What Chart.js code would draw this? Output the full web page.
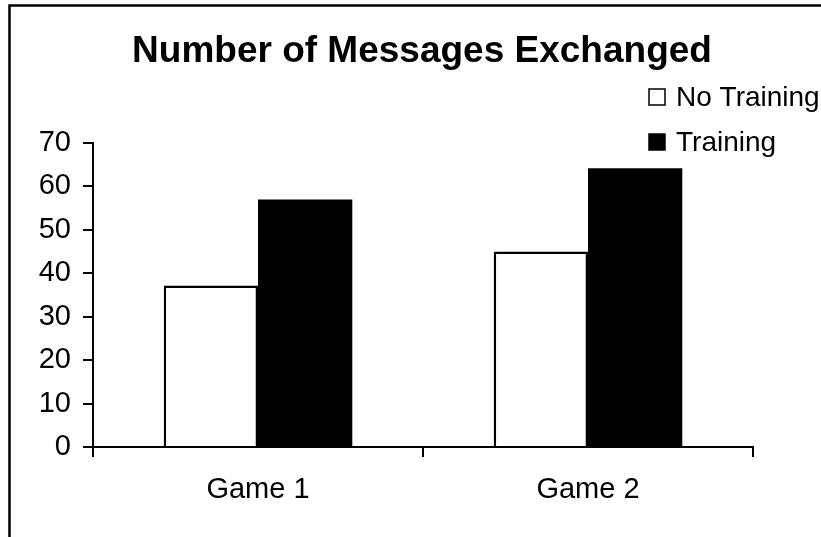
<!DOCTYPE html>
<html>
<head>
<meta charset="utf-8">
<script src="https://cdn.jsdelivr.net/npm/chart.js@4/dist/chart.umd.min.js"></script>
<style>
  html, body { margin: 0; padding: 0; background: #fff; }
  #wrap { width: 821px; height: 537px; position: relative; }
</style>
</head>
<body>
<div id="wrap"><canvas id="chart"></canvas></div>
<script>
// ── data ─────────────────────────────────────────────
const chartTitle = 'Number of Messages Exchanged';
const categories = ['Game 1', 'Game 2'];
const seriesNames = ['No Training', 'Training'];
const noTraining = [37.2, 45.0];
const training = [57.0, 64.2];
const yTicks = [0, 10, 20, 30, 40, 50, 60, 70];

const FONT = "'Liberation Sans', Arial, sans-serif";

// frame, title and the stacked legend in the top-right corner
const decorations = {
    id: 'decorations',
    beforeDraw(chart) {
        const ctx = chart.ctx;
        ctx.save();
        ctx.fillStyle = '#fff';
        ctx.fillRect(0, 0, chart.width, chart.height);
        ctx.strokeStyle = '#000';
        ctx.lineWidth = 2.5;
        ctx.beginPath();
        ctx.moveTo(9.5, chart.height);
        ctx.lineTo(9.5, 5.5);
        ctx.lineTo(chart.width, 5.5);
        ctx.stroke();
        ctx.restore();
    },
    afterDraw(chart) {
        const ctx = chart.ctx;
        ctx.save();
        ctx.fillStyle = '#000';
        ctx.font = `bold 37px ${FONT}`;
        ctx.textAlign = 'center';
        ctx.textBaseline = 'middle';
        ctx.fillText(chartTitle, 422, 52);

        ctx.font = `28px ${FONT}`;
        ctx.textAlign = 'left';
        const rows = [97, 142];
        chart.data.datasets.forEach((ds, i) => {
            const y = rows[i];
            ctx.fillStyle = ds.backgroundColor;
            ctx.fillRect(649, y - 8, 16, 16);
            ctx.strokeStyle = '#000';
            ctx.lineWidth = 1.5;
            ctx.strokeRect(649, y - 8, 16, 16);
            ctx.fillStyle = '#000';
            ctx.fillText(ds.label, 676, y + 1);
        });
        ctx.restore();
    }
};

new Chart(document.getElementById('chart'), {
    type: 'bar',
    data: {
        labels: categories,
        datasets: [
            { label: seriesNames[0], data: noTraining, backgroundColor: '#ffffff', borderColor: '#000000', borderWidth: 2.5 },
            { label: seriesNames[1], data: training, backgroundColor: '#000000', borderColor: '#000000', borderWidth: 0 }
        ]
    },
    options: {
        responsive: true, maintainAspectRatio: false, animation: false,
        devicePixelRatio: 1,
        layout: { padding: { top: 143, right: 68, left: 0, bottom: 0 } },
        datasets: { bar: { categoryPercentage: 2 / 3.5, barPercentage: 1 } },
        plugins: { legend: { display: false }, title: { display: false }, tooltip: { enabled: false } },
        scales: {
            x: {
                afterFit: s => { s.height = 90; },
                grid: { display: true, drawOnChartArea: false, drawTicks: true, tickLength: 10, color: '#000', lineWidth: 2, offset: true },
                border: { display: true, color: '#000', width: 2 },
                ticks: { color: '#000', padding: 16, font: { family: FONT, size: 29 } }
            },
            y: {
                min: 0, max: 70,
                afterFit: s => { s.width = 93; },
                afterBuildTicks: s => { s.ticks = yTicks.map(v => ({ value: v })); },
                grid: { display: true, drawOnChartArea: false, drawTicks: true, tickLength: 10, color: '#000', lineWidth: 2 },
                border: { display: true, color: '#000', width: 2 },
                ticks: { color: '#000', padding: 12, font: { family: FONT, size: 29 } }
            }
        }
    },
    plugins: [decorations]
});
</script>
</body>
</html>
